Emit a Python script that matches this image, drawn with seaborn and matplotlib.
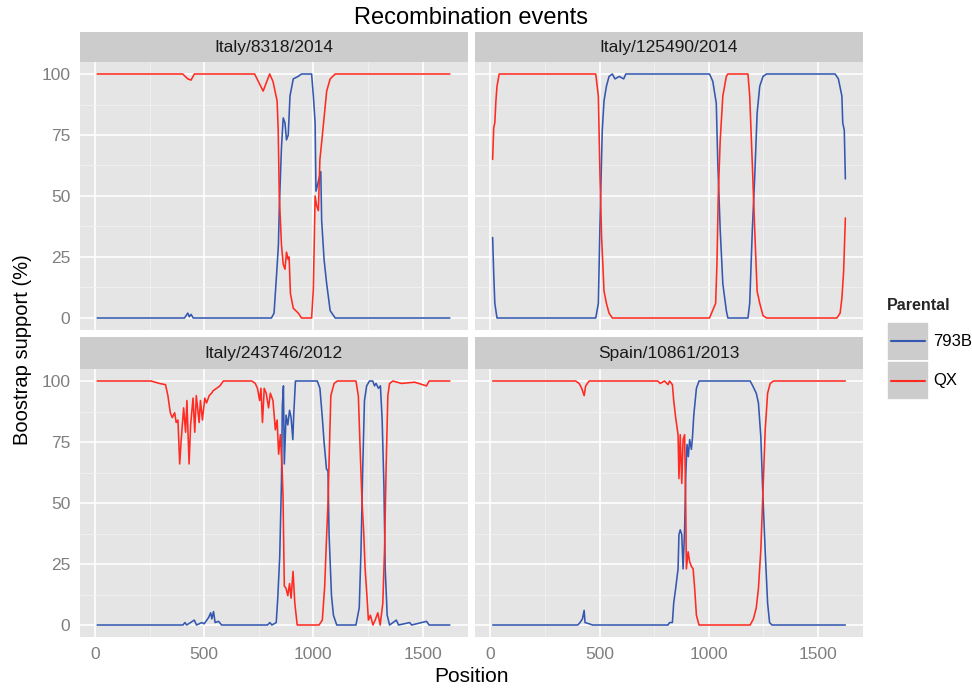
import numpy as np
import pandas as pd
import matplotlib
matplotlib.use("Agg")
import matplotlib.pyplot as plt
import seaborn as sns
from matplotlib.patches import Rectangle
from matplotlib.lines import Line2D

# =========================
# DATA
# =========================
panels = ["Italy/8318/2014", "Italy/125490/2014", "Italy/243746/2012", "Spain/10861/2013"]
parents = ["793B", "QX"]

# Italy/8318/2014
p1_b_x = [10, 410, 425, 432, 440, 450, 808, 820, 831, 840, 844, 854, 862, 870, 877, 885, 893, 908, 930, 946,
          992, 1000, 1008, 1012, 1023, 1034, 1038, 1049, 1061, 1077, 1100, 1625]
p1_b_y = [0, 0, 2, 0.5, 1.5, 0, 0, 2, 17, 30, 45, 70, 82, 80, 73, 75, 91, 98, 99, 100,
          100, 91, 80, 52, 56, 60, 40, 24, 14, 3, 0, 0]
p1_r_x = [10, 402, 425, 440, 455, 731, 770, 800, 815, 834, 839, 844, 854, 862, 870, 877, 885, 889, 895, 908,
          931, 946, 992, 1000, 1008, 1015, 1023, 1030, 1038, 1049, 1061, 1077, 1100, 1625]
p1_r_y = [100, 100, 98, 97.5, 100, 100, 93, 100, 97, 89, 77, 50, 30, 22, 20, 27, 24, 25, 10, 4,
          2, 0, 0, 12, 50, 46, 44, 65, 72, 82, 93, 98, 100, 100]

# Italy/125490/2014
p2_b_x = [10, 15, 20, 30, 482, 494, 502, 512, 520, 531, 543, 558, 570, 590, 610, 620, 1003, 1018, 1034,
          1041, 1052, 1064, 1080, 1087, 1179, 1187, 1199, 1210, 1221, 1233, 1248, 1264, 1578, 1593, 1609,
          1613, 1620, 1625]
p2_b_y = [33, 18, 6, 0, 0, 6, 41, 77, 89, 95, 99, 100, 98, 99, 98, 100, 100, 97, 88,
          63, 36, 14, 3, 0, 0, 6, 36, 58, 84, 95, 99, 100, 100, 98, 91,
          80, 77, 57]
p2_r_x = [10, 15, 20, 25, 30, 40, 482, 494, 502, 509, 520, 531, 543, 558, 1003, 1031, 1037, 1043, 1052,
          1064, 1080, 1087, 1179, 1187, 1199, 1210, 1221, 1233, 1248, 1264, 1586, 1601, 1609, 1617, 1625]
p2_r_y = [65, 78, 80, 89, 95, 100, 100, 91, 56, 33, 11, 6, 2, 0, 0, 6, 22, 50, 73,
          91, 99, 100, 100, 91, 63, 36, 11, 6, 1, 0, 0, 2, 8, 19, 41]

# Italy/243746/2012
p3_b_x = [10, 403, 412, 420, 455, 465, 489, 500, 520, 530, 535, 543, 550, 566, 580, 790, 801, 810, 830, 837,
          846, 854, 858, 863, 867, 875, 883, 891, 898, 906, 910, 918, 1018, 1030, 1041, 1049, 1060, 1067,
          1072, 1083, 1092, 1107, 1195, 1210, 1218, 1226, 1234, 1244, 1257, 1272, 1280, 1287, 1298, 1307,
          1315, 1323, 1329, 1338, 1349, 1380, 1390, 1441, 1450, 1518, 1530, 1625]
p3_b_y = [0, 0, 1, 0, 2, 0, 1, 0.5, 3, 5, 2.5, 5.5, 1, 1.5, 0, 0, 1, 0, 1, 11,
          28, 59, 90, 98, 66, 86, 82, 88, 85, 76, 86, 100, 100, 97, 85, 75, 64, 63,
          37, 12, 4, 0, 0, 7, 30, 64, 92, 98, 100, 100, 98, 99, 97, 98,
          84, 57, 23, 4, 0, 2, 0, 1, 0, 1.5, 0, 0]
p3_r_x = [10, 257, 295, 323, 334, 345, 354, 365, 372, 380, 388, 395, 406, 415, 421, 431, 438, 449, 457,
          464, 477, 483, 492, 503, 511, 523, 534, 541, 557, 572, 588, 718, 734, 744, 754, 760, 767, 775,
          784, 795, 803, 815, 826, 834, 841, 849, 857, 861, 867, 875, 883, 891, 898, 907, 915, 926, 1026,
          1041, 1052, 1060, 1067, 1074, 1080, 1095, 1110, 1195, 1206, 1215, 1223, 1230, 1237, 1246, 1252,
          1261, 1273, 1283, 1295, 1306, 1318, 1326, 1333, 1341, 1349, 1364, 1403, 1464, 1518, 1530, 1625]
p3_r_y = [100, 100, 99, 98.5, 94, 87, 85, 87, 83, 84, 66, 76, 89, 79, 92, 66, 82, 93, 79,
          94, 83, 92, 84, 93, 91, 94, 95, 96, 97, 98, 100, 100, 99, 97, 92, 97, 83, 97,
          95, 89, 95, 92, 80, 84, 70, 78, 64, 53, 16, 15, 12, 17, 11, 22, 9, 0, 0,
          2, 16, 35, 50, 74, 94, 99, 100, 100, 94, 70, 50, 39, 23, 11, 2,
          4, 0, 2, 5, 0, 9, 31, 64, 94, 99, 100, 99, 99.5, 98, 100, 100]

# Spain/10861/2013
p4_b_x = [10, 400, 410, 421, 429, 433, 452, 467, 813, 820, 833, 839, 848, 859, 863, 869, 876, 882, 889,
          894, 900, 906, 912, 920, 925, 931, 943, 955, 1189, 1201, 1217, 1227, 1238, 1247, 1258, 1269,
          1278, 1289, 1625]
p4_b_y = [0, 0, 1, 2.5, 6, 1, 0.5, 0, 0, 1, 1, 9, 15, 23, 37, 39, 37, 23, 39,
          61, 74, 69, 76, 72, 77, 86, 97, 100, 100, 98, 95, 91, 77, 54, 30, 9,
          1, 0, 0]
p4_r_x = [10, 390, 406, 418, 429, 436, 452, 766, 777, 797, 813, 820, 833, 839, 848, 859, 863, 869, 876,
          882, 889, 894, 897, 905, 912, 920, 928, 935, 943, 955, 1189, 1204, 1217, 1227, 1238, 1247, 1258,
          1269, 1281, 1296, 1625]
p4_r_y = [100, 100, 99, 97, 94, 98, 100, 100, 99, 100, 98.5, 100, 98.5, 92, 85, 78, 60, 78, 58,
          76, 78, 50, 23, 30, 26, 24, 23, 15, 4, 0, 0, 2.5, 7, 15, 31, 53, 80,
          95, 99, 100, 100]

series = {
    panels[0]: [(p1_b_x, p1_b_y), (p1_r_x, p1_r_y)],
    panels[1]: [(p2_b_x, p2_b_y), (p2_r_x, p2_r_y)],
    panels[2]: [(p3_b_x, p3_b_y), (p3_r_x, p3_r_y)],
    panels[3]: [(p4_b_x, p4_b_y), (p4_r_x, p4_r_y)],
}

rows = []
for panel, pairs in series.items():
    for parent, (xs, ys) in zip(parents, pairs):
        for x, y in zip(xs, ys):
            rows.append((panel, parent, x, y))
df = pd.DataFrame(rows, columns=["Sample", "Parental", "Position", "Support"])

x_ticks = [0, 500, 1000, 1500]
y_ticks = [0, 25, 50, 75, 100]
palette = {"793B": "#3457b0", "QX": "#ff2a22"}

# =========================
# STYLE
# =========================
sns.set_theme(style="darkgrid")
plt.rcParams["font.family"] = ["Liberation Sans", "DejaVu Sans"]

W, H = 972, 688
fig = plt.figure(figsize=(W / 100, H / 100), dpi=100)

def fx(px):
    return px / W

def fy(py):
    return 1 - py / H

lefts = [79.5, 475]
plot_w = 388
tops = [(32, 61.8, 330.2), (337, 368.8, 637.2)]

for i, panel in enumerate(panels):
    col, row = i % 2, i // 2
    s_top, p_top, p_bot = tops[row]
    x0 = lefts[col]
    ax = fig.add_axes([fx(x0), fy(p_bot), plot_w / W, (p_bot - p_top) / H])
    ax.set_facecolor("#E5E5E5")
    sub = df[df["Sample"] == panel]
    sns.lineplot(data=sub, x="Position", y="Support", hue="Parental", hue_order=parents,
                 palette=palette, estimator=None, sort=False, linewidth=1.15,
                 legend=False, ax=ax)
    ax.set_xlim(-70.75, 1705.75)
    ax.set_ylim(-5, 105)
    ax.set_xticks(x_ticks)
    ax.set_yticks(y_ticks)
    ax.set_xticks([250, 750, 1250], minor=True)
    ax.set_yticks([12.5, 37.5, 62.5, 87.5], minor=True)
    ax.grid(which="major", color="white", linewidth=1.2)
    ax.grid(which="minor", color="#F2F2F2", linewidth=0.6)
    ax.set_axisbelow(True)
    for sp in ax.spines.values():
        sp.set_visible(False)
    ax.set_xlabel("")
    ax.set_ylabel("")
    ax.tick_params(which="minor", length=0)
    ax.tick_params(which="major", colors="#7F7F7F", labelsize=12.5, length=4.2, width=1.0, pad=2.5)
    if row == 0:
        ax.tick_params(axis="x", which="major", length=0, labelbottom=False)
    if col == 1:
        ax.tick_params(axis="y", which="major", length=0, labelleft=False)

    # facet strip
    sax = fig.add_axes([fx(x0), fy(p_top), plot_w / W, (p_top - s_top) / H])
    sax.set_facecolor("#CCCCCC")
    sax.set_xticks([])
    sax.set_yticks([])
    for sp in sax.spines.values():
        sp.set_visible(False)
    sax.text(0.5, 0.48, panel, ha="center", va="center", fontsize=12.5, color="#1A1A1A",
             transform=sax.transAxes)

fig.text(fx(471), fy(18), "Recombination events", ha="center", va="center", fontsize=17, color="black")
fig.text(fx(471), fy(677), "Position", ha="center", va="center", fontsize=15, color="black")
fig.text(fx(22), fy(349.5), "Boostrap support (%)", ha="center", va="center", rotation=90,
         fontsize=14.5, color="black")

# legend
fig.text(fx(887), fy(305.5), "Parental", ha="left", va="center", fontsize=11.5, fontweight="bold")
for j, parent in enumerate(parents):
    ky0 = 322 + j * 39
    fig.patches.append(Rectangle((fx(887), fy(ky0 + 39)), 42 / W, 39 / H, transform=fig.transFigure,
                                 facecolor="#CCCCCC", edgecolor="white", linewidth=1.2))
    fig.lines.append(Line2D([fx(891), fx(925)], [fy(ky0 + 19.5)] * 2, transform=fig.transFigure,
                            color=palette[parent], linewidth=1.5))
    fig.text(fx(933), fy(ky0 + 19.5), parent, ha="left", va="center", fontsize=12, color="black")

fig.savefig("out.png", dpi=100)
